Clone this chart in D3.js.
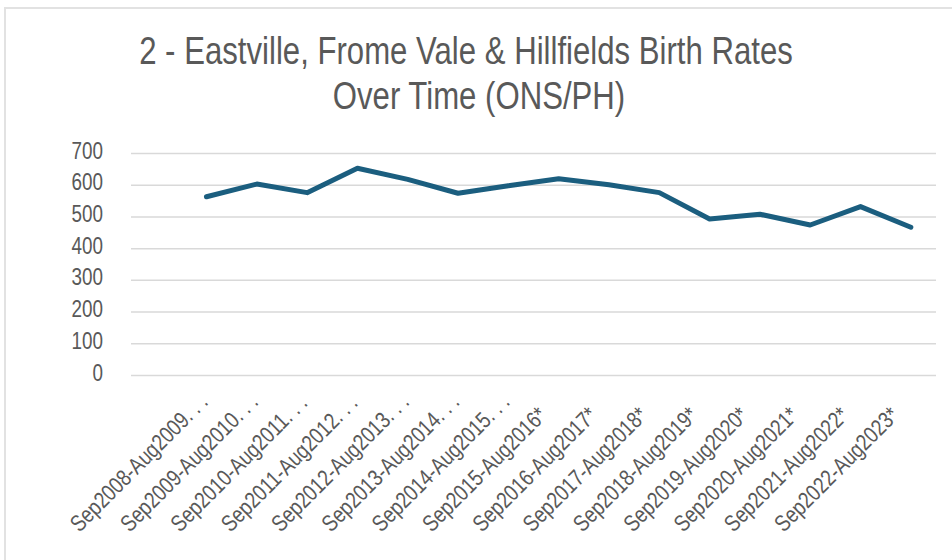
<!DOCTYPE html>
<html>
<head>
<meta charset="utf-8">
<script src="https://cdn.jsdelivr.net/npm/d3@7"></script>
<style>
  body { margin: 0; background: #fff; }
  svg text { font-family: "Liberation Sans", Arial, sans-serif; }
</style>
</head>
<body>
<svg id="chart" width="952" height="560"></svg>
<script>
// data (first slot on the axis is empty)
var categories = ["", "Sep2008-Aug2009. . .", "Sep2009-Aug2010. . .", "Sep2010-Aug2011. . .",
  "Sep2011-Aug2012. . .", "Sep2012-Aug2013. . .", "Sep2013-Aug2014. . .", "Sep2014-Aug2015. . .",
  "Sep2015-Aug2016*", "Sep2016-Aug2017*", "Sep2017-Aug2018*", "Sep2018-Aug2019*",
  "Sep2019-Aug2020*", "Sep2020-Aug2021*", "Sep2021-Aug2022*", "Sep2022-Aug2023*"];
var births = [null, 562, 602, 575, 652, 617, 573, 597, 619, 600, 575, 492, 507, 473, 531, 466];
var yTicks = [0, 100, 200, 300, 400, 500, 600, 700];
var titleLines = ["2 - Eastville, Frome Vale & Hillfields Birth Rates", "Over Time (ONS/PH)"];

var svg = d3.select("#chart");
var grey = "#595959";
var narrow = 0.82; // no narrow face installed, squeeze the regular one

// outer chart border
svg.append("rect")
  .attr("x", 5).attr("y", 8)
  .attr("width", 960).attr("height", 570)
  .attr("fill", "none")
  .attr("stroke", "#e2e2e2")
  .attr("stroke-width", 2);

// title
svg.selectAll(".title")
  .data(titleLines)
  .join("text")
  .attr("class", "title")
  .attr("text-anchor", "middle")
  .attr("transform", (d, i) => `translate(${i == 0 ? 466 : 479},${64 + i * 45}) scale(${narrow},1)`)
  .attr("fill", grey)
  .style("font-size", "38px")
  .text(d => d);

var mLeft = 131, mRight = 936, mTop = 153, mBottom = 375;

var x = d3.scaleBand().domain(categories).range([mLeft, mRight]).padding(0);
var y = d3.scaleLinear().domain([0, 700]).range([mBottom, mTop]);

// y axis + gridlines
var yAxis = svg.append("g")
  .attr("transform", `translate(${mLeft},0)`)
  .call(d3.axisLeft(y).tickValues(yTicks).tickSize(-(mRight - mLeft)));
yAxis.select(".domain").remove();
yAxis.selectAll(".tick line").attr("stroke", "#d9d9d9").attr("stroke-width", 1.5);
yAxis.selectAll(".tick text")
  .attr("fill", grey)
  .attr("x", 0)
  .attr("dy", "0.22em")
  .attr("transform", `translate(-28,0) scale(${narrow},1)`)
  .style("font-size", "23px");

// x axis labels, rotated; they line up at their lower-left start
var xAxis = svg.append("g")
  .attr("transform", `translate(0,${mBottom})`)
  .call(d3.axisBottom(x).tickSize(0));
xAxis.select(".domain").remove();
xAxis.selectAll(".tick text")
  .attr("fill", grey)
  .style("font-size", "23px")
  .attr("text-anchor", "start")
  .attr("y", 0)
  .attr("dy", 0)
  .attr("transform", `translate(-127,158) rotate(-45) scale(${narrow},1)`);

// the line
var line = d3.line()
  .defined(d => d[1] != null)
  .x(d => x(d[0]) + x.bandwidth() / 2)
  .y(d => y(d[1]));

svg.append("path")
  .datum(categories.map((c, i) => [c, births[i]]))
  .attr("d", line)
  .attr("fill", "none")
  .attr("stroke", "#1b5e7f")
  .attr("stroke-width", 5)
  .attr("stroke-linejoin", "round")
  .attr("stroke-linecap", "round");
</script>
</body>
</html>
